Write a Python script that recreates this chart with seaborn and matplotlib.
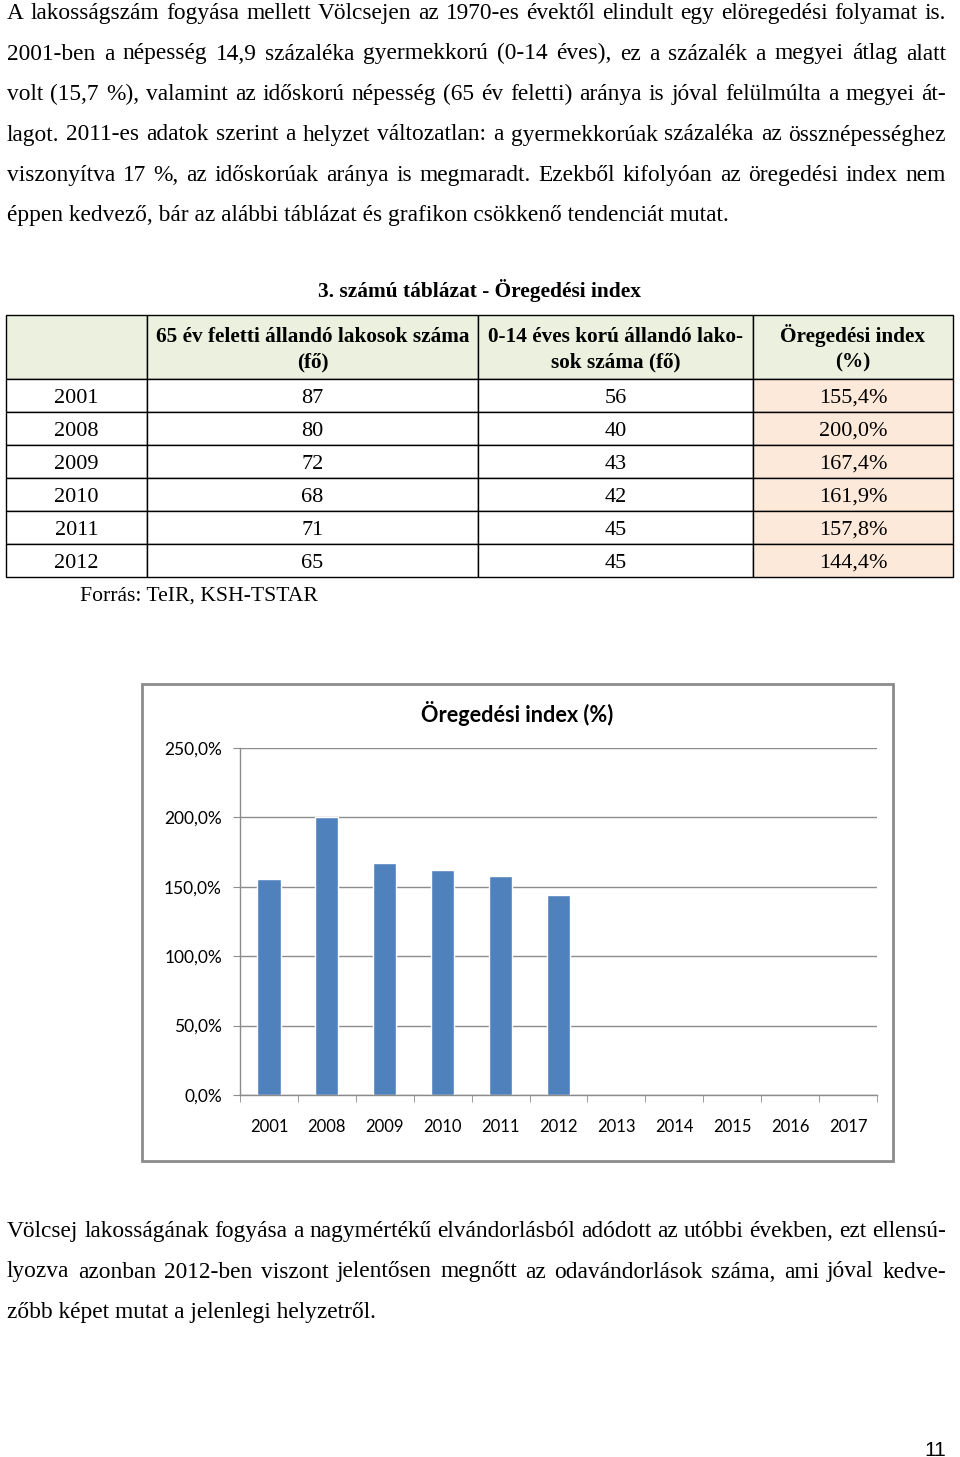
"""
plot.py

Öregedési index page: text, table and bar chart.
"""

import matplotlib

matplotlib.use("Agg")

import matplotlib.pyplot as plt
import pandas as pd
import seaborn as sns
from matplotlib.patches import Rectangle


# ==========================================================
# Data
# ==========================================================

years = ["2001", "2008", "2009", "2010", "2011", "2012"]
over_65 = [87, 80, 72, 68, 71, 65]
under_14 = [56, 40, 43, 42, 45, 45]
aging_index = [155.4, 200.0, 167.4, 161.9, 157.8, 144.4]

chart_years = [
    "2001", "2008", "2009", "2010", "2011", "2012",
    "2013", "2014", "2015", "2016", "2017",
]
y_ticks = [0, 50, 100, 150, 200, 250]

top_lines = [
    "A lakosságszám fogyása mellett Völcsejen az 1970-es évektől elindult egy elöregedési folyamat is.",
    "2001-ben a népesség 14,9 százaléka gyermekkorú (0-14 éves), ez a százalék a megyei átlag alatt",
    "volt (15,7 %), valamint az időskorú népesség (65 év feletti) aránya is jóval felülmúlta a megyei át-",
    "lagot. 2011-es adatok szerint a helyzet változatlan: a gyermekkorúak százaléka az össznépességhez",
    "viszonyítva 17 %, az időskorúak aránya is megmaradt. Ezekből kifolyóan az öregedési index nem",
    "éppen kedvező, bár az alábbi táblázat és grafikon csökkenő tendenciát mutat.",
]

bottom_lines = [
    "Völcsej lakosságának fogyása a nagymértékű elvándorlásból adódott az utóbbi években, ezt ellensú-",
    "lyozva azonban 2012-ben viszont jelentősen megnőtt az odavándorlások száma, ami jóval kedve-",
    "zőbb képet mutat a jelenlegi helyzetről.",
]

table_title = "3. számú táblázat - Öregedési index"
header_cells = [
    ["", ""],
    ["65 év feletti állandó lakosok száma", "(fő)"],
    ["0-14 éves korú állandó lako-", "sok száma (fő)"],
    ["Öregedési index", "(%)"],
]
source_text = "Forrás: TeIR, KSH-TSTAR"
chart_title = "Öregedési index (%)"
page_number = "11"


def pct(value: float) -> str:
    return f"{value:.1f}%".replace(".", ",")


# ==========================================================
# Figure
# ==========================================================

sns.set_style("white")
plt.rcParams["font.family"] = ["Liberation Serif", "DejaVu Serif"]
plt.rcParams["text.color"] = "black"

fig = plt.figure(figsize=(9.6, 14.57), dpi=100)

page = fig.add_axes([0, 0, 1, 1])
page.set_xlim(0, 960)
page.set_ylim(1457, 0)
page.axis("off")

renderer = fig.canvas.get_renderer()

serif = ["Liberation Serif", "DejaVu Serif"]
body_font = dict(fontsize=16.8, family=serif, color="black")
cell_font = dict(fontsize=16, family=serif, color="black")
head_font = dict(fontsize=15.3, family=serif, fontweight="bold",
                 color="black")


def draw_line(y, line, justify, x0=7, x1=946):
    """
    Draw one text line, spreading the words to both margins.
    """

    if not justify:
        page.text(x0, y, line, ha="left", va="baseline", **body_font)
        return

    words = line.split(" ")
    widths = []

    for word in words:
        probe = page.text(0, 0, word, **body_font)
        widths.append(probe.get_window_extent(renderer).width)
        probe.remove()

    gap = (x1 - x0 - sum(widths)) / (len(words) - 1)
    x = x0

    for word, width in zip(words, widths):
        page.text(x, y, word, ha="left", va="baseline", **body_font)
        x += width + gap


for index, line in enumerate(top_lines):
    draw_line(19 + index * 40.5, line, index < len(top_lines) - 1)

for index, line in enumerate(bottom_lines):
    draw_line(1237 + index * 40.5, line, index < len(bottom_lines) - 1)


# ==========================================================
# Table
# ==========================================================

page.text(
    480, 297, table_title,
    ha="center", va="baseline",
    fontsize=15.4, fontweight="bold", family=serif, color="black",
)

col_edges = [6, 147, 478, 753, 953]
header_top = 315
header_bottom = 379
row_height = 33

for col in range(4):
    left = col_edges[col]
    width = col_edges[col + 1] - left

    page.add_patch(Rectangle(
        (left, header_top), width, header_bottom - header_top,
        facecolor="#ebf1de", edgecolor="black", linewidth=1,
    ))

    center = left + width / 2
    page.text(center, 342, header_cells[col][0], ha="center",
              va="baseline", **head_font)
    page.text(center, 367, header_cells[col][1], ha="center",
              va="baseline", **head_font)

for row, year in enumerate(years):
    top = header_bottom + row * row_height
    values = [year, str(over_65[row]), str(under_14[row]),
              pct(aging_index[row])]

    for col in range(4):
        left = col_edges[col]
        width = col_edges[col + 1] - left
        face = "#fde9d9" if col == 3 else "white"

        page.add_patch(Rectangle(
            (left, top), width, row_height,
            facecolor=face, edgecolor="black", linewidth=1,
        ))

        page.text(left + width / 2, top + 24, values[col],
                  ha="center", va="baseline", **cell_font)

page.text(80, 601, source_text, ha="left", va="baseline",
          fontsize=15.6, family=serif, color="black")


# ==========================================================
# Chart
# ==========================================================

page.add_patch(Rectangle(
    (144, 686), 751, 477,
    facecolor="#d9d9d9", edgecolor="none",
))
page.add_patch(Rectangle(
    (142, 684), 751, 477,
    facecolor="white", edgecolor="#8c8c8c", linewidth=2,
))

page.text(
    517, 713, chart_title,
    ha="center", va="center",
    fontsize=15.6, fontweight="bold", color="black",
    family=["Lato", "DejaVu Sans"],
)

plot_left, plot_right = 240, 877
plot_top, plot_bottom = 748, 1095

ax = fig.add_axes([
    plot_left / 960,
    1 - plot_bottom / 1457,
    (plot_right - plot_left) / 960,
    (plot_bottom - plot_top) / 1457,
])
ax.set_facecolor("none")

chart_df = pd.DataFrame({"Year": years, "Index": aging_index})

sns.barplot(
    data=chart_df,
    x="Year",
    y="Index",
    order=chart_years,
    color="#4f81bd",
    saturation=1,
    width=0.4,
    ax=ax,
)

ax.set_xlim(-0.5, len(chart_years) - 0.5)
ax.set_ylim(0, 250)
ax.set_yticks(y_ticks)
ax.set_yticklabels([pct(v) for v in y_ticks])
ax.set_xlabel("")
ax.set_ylabel("")

ax.set_xticks([i - 0.5 for i in range(len(chart_years) + 1)], minor=True)
ax.tick_params(axis="x", which="major", length=0, pad=17)
ax.tick_params(axis="x", which="minor", length=5, color="#8c8c8c",
               direction="out", bottom=True)
ax.tick_params(axis="y", length=5, color="#8c8c8c", direction="out",
               left=True, pad=8)

for label in ax.get_xticklabels():
    label.set_family(["Lato", "DejaVu Sans"])
    label.set_fontsize(12)
    label.set_color("black")

for label in ax.get_yticklabels():
    label.set_family(["Lato", "DejaVu Sans"])
    label.set_fontsize(12.5)
    label.set_color("black")

ax.yaxis.grid(True, color="#8c8c8c", linewidth=1)
ax.set_axisbelow(True)

for side in ["top", "right"]:
    ax.spines[side].set_visible(False)
for side in ["left", "bottom"]:
    ax.spines[side].set_color("#8c8c8c")
    ax.spines[side].set_linewidth(1)

page.text(
    935, 1450, page_number,
    ha="center", va="center", color="black",
    fontsize=15, family=["Liberation Sans", "DejaVu Sans"],
)

fig.savefig("out.png", dpi=100)
plt.close(fig)
